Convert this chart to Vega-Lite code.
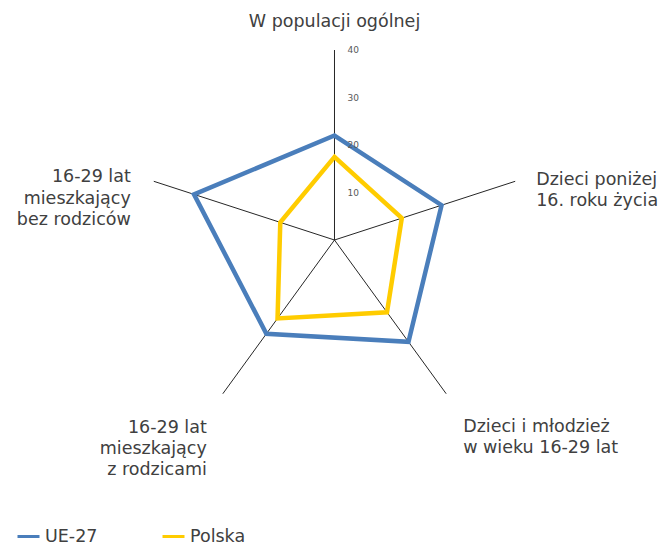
{
  "$schema": "https://vega.github.io/schema/vega-lite/v6.json",
  "width": 665,
  "height": 547,
  "padding": 0,
  "autosize": {"type": "none"},
  "background": "white",
  "config": {
    "view": {"stroke": null},
    "font": "DejaVu Sans"
  },
  "datasets": {
    "kategorie": [
      {"idx": 0, "etykieta": ["W populacji ogólnej"]},
      {"idx": 1, "etykieta": ["Dzieci poniżej", "16. roku życia"]},
      {"idx": 2, "etykieta": ["Dzieci i młodzież", "w wieku 16-29 lat"]},
      {"idx": 3, "etykieta": ["16-29 lat", "mieszkający", "z rodzicami"]},
      {"idx": 4, "etykieta": ["16-29 lat", "mieszkający", "bez rodziców"]}
    ],
    "serie": [
      {"idx": 0, "seria": "UE-27", "wartosc": 22.0},
      {"idx": 1, "seria": "UE-27", "wartosc": 23.7},
      {"idx": 2, "seria": "UE-27", "wartosc": 26.5},
      {"idx": 3, "seria": "UE-27", "wartosc": 24.4},
      {"idx": 4, "seria": "UE-27", "wartosc": 31.1},
      {"idx": 0, "seria": "Polska", "wartosc": 17.5},
      {"idx": 1, "seria": "Polska", "wartosc": 14.9},
      {"idx": 2, "seria": "Polska", "wartosc": 18.8},
      {"idx": 3, "seria": "Polska", "wartosc": 20.4},
      {"idx": 4, "seria": "Polska", "wartosc": 12.0}
    ],
    "podzialka": [
      {"wartosc": 10}, {"wartosc": 20}, {"wartosc": 30}, {"wartosc": 40}
    ]
  },
  "resolve": {"scale": {"x": "shared", "y": "shared"}},
  "layer": [
    {
      "data": {"name": "kategorie"},
      "transform": [
        {"calculate": "PI/2 - datum.idx * 2 * PI / 5", "as": "kat"},
        {"calculate": "40 * cos(datum.kat)", "as": "px"},
        {"calculate": "40 * sin(datum.kat)", "as": "py"}
      ],
      "layer": [
        {
          "mark": {"type": "rule", "color": "#262626", "strokeWidth": 1},
          "encoding": {
            "x": {"field": "px", "type": "quantitative", "scale": {"domain": [-70.42, 69.58], "nice": false, "zero": false}, "axis": null},
            "y": {"field": "py", "type": "quantitative", "scale": {"domain": [-64.63, 50.53], "nice": false, "zero": false}, "axis": null},
            "x2": {"datum": 0},
            "y2": {"datum": 0}
          }
        },
        {
          "transform": [{"filter": "datum.idx == 0"}],
          "mark": {"type": "text", "align": "center", "baseline": "alphabetic", "dy": -23, "fontSize": 17.5, "color": "#404040", "lineHeight": 21},
          "encoding": {
            "x": {"field": "px", "type": "quantitative"},
            "y": {"field": "py", "type": "quantitative"},
            "text": {"field": "etykieta"}
          }
        },
        {
          "transform": [{"filter": "datum.idx == 1"}],
          "mark": {"type": "text", "align": "left", "baseline": "alphabetic", "dx": 21, "dy": 4, "fontSize": 17.5, "color": "#404040", "lineHeight": 21},
          "encoding": {
            "x": {"field": "px", "type": "quantitative"},
            "y": {"field": "py", "type": "quantitative"},
            "text": {"field": "etykieta"}
          }
        },
        {
          "transform": [{"filter": "datum.idx == 2"}],
          "mark": {"type": "text", "align": "left", "baseline": "alphabetic", "dx": 17, "dy": 38, "fontSize": 17.5, "color": "#404040", "lineHeight": 21},
          "encoding": {
            "x": {"field": "px", "type": "quantitative"},
            "y": {"field": "py", "type": "quantitative"},
            "text": {"field": "etykieta"}
          }
        },
        {
          "transform": [{"filter": "datum.idx == 3"}],
          "mark": {"type": "text", "align": "right", "baseline": "alphabetic", "dx": -16, "dy": 39, "fontSize": 17.5, "color": "#404040", "lineHeight": 21},
          "encoding": {
            "x": {"field": "px", "type": "quantitative"},
            "y": {"field": "py", "type": "quantitative"},
            "text": {"field": "etykieta"}
          }
        },
        {
          "transform": [{"filter": "datum.idx == 4"}],
          "mark": {"type": "text", "align": "right", "baseline": "alphabetic", "dx": -23, "dy": 1, "fontSize": 17.5, "color": "#404040", "lineHeight": 21.5},
          "encoding": {
            "x": {"field": "px", "type": "quantitative"},
            "y": {"field": "py", "type": "quantitative"},
            "text": {"field": "etykieta"}
          }
        }
      ]
    },
    {
      "data": {"name": "serie"},
      "transform": [
        {"calculate": "PI/2 - datum.idx * 2 * PI / 5", "as": "kat"},
        {"calculate": "datum.wartosc * cos(datum.kat)", "as": "px"},
        {"calculate": "datum.wartosc * sin(datum.kat)", "as": "py"}
      ],
      "mark": {"type": "line", "interpolate": "linear-closed", "strokeWidth": 4.5, "strokeJoin": "miter"},
      "encoding": {
        "x": {"field": "px", "type": "quantitative"},
        "y": {"field": "py", "type": "quantitative"},
        "order": {"field": "idx"},
        "color": {
          "field": "seria",
          "type": "nominal",
          "scale": {"domain": ["UE-27", "Polska"], "range": ["#4A7EBB", "#FFCC00"]},
          "legend": {
            "title": null,
            "orient": "none",
            "legendX": 16,
            "legendY": 524,
            "direction": "horizontal",
            "symbolType": "stroke",
            "symbolSize": 484,
            "symbolStrokeWidth": 3,
            "labelFont": "DejaVu Sans",
            "labelFontSize": 17.5,
            "labelColor": "#404040",
            "labelOffset": 4,
            "columnPadding": 58,
            "padding": 0
          }
        }
      }
    },
    {
      "data": {"name": "podzialka"},
      "mark": {"type": "text", "align": "left", "baseline": "middle", "dx": 13, "fontSize": 9, "color": "#595959"},
      "encoding": {
        "x": {"datum": 0, "type": "quantitative"},
        "y": {"field": "wartosc", "type": "quantitative"},
        "text": {"field": "wartosc", "type": "quantitative"}
      }
    }
  ]
}
